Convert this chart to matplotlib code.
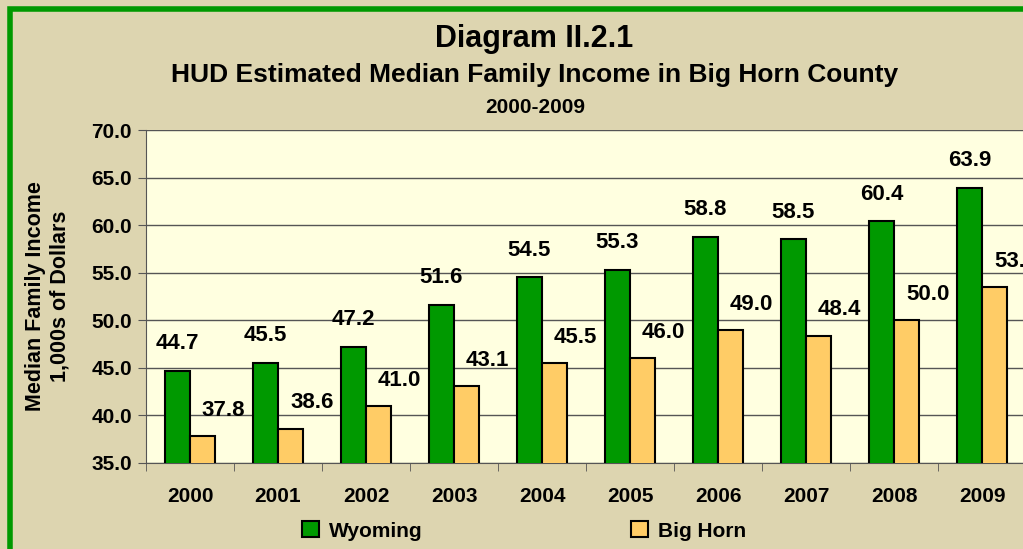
import matplotlib.pyplot as plt
import numpy as np

plt.rcParams['font.family'] = ['Liberation Sans', 'DejaVu Sans']
plt.rcParams['font.weight'] = 'bold'

years = ['2000', '2001', '2002', '2003', '2004', '2005', '2006', '2007', '2008', '2009']
wyoming = [44.7, 45.5, 47.2, 51.6, 54.5, 55.3, 58.8, 58.5, 60.4, 63.9]
big_horn = [37.8, 38.6, 41.0, 43.1, 45.5, 46.0, 49.0, 48.4, 50.0, 53.5]

green = '#009900'
orange = '#ffcc66'
bg = '#ddd5b0'

fig = plt.figure(figsize=(10.23, 5.49), dpi=100, facecolor=bg)
# green frame round the chart (cropped at the right)
frame = plt.Rectangle((0.0098, -0.05), 1.2, 1.034, transform=fig.transFigure,
                      fill=False, edgecolor=green, linewidth=4, zorder=0)
fig.patches.append(frame)

ax = fig.add_axes([146 / 1023, 1 - 463 / 549, 880 / 1023, 333 / 549])
ax.set_facecolor('#ffffe0')

x = np.arange(len(years))
w = 0.285
b1 = ax.bar(x - w / 2, wyoming, w, bottom=0, color=green, edgecolor='black', linewidth=1.5, zorder=3)
b2 = ax.bar(x + w / 2, big_horn, w, bottom=0, color=orange, edgecolor='black', linewidth=1.5, zorder=3)

for i in range(len(years)):
    ax.annotate(f'{wyoming[i]:.1f}', (x[i] - w / 2, wyoming[i]), xytext=(0, 12),
                textcoords='offset points', ha='center', va='bottom', fontsize=16, fontweight='bold',
                annotation_clip=False)
    ax.annotate(f'{big_horn[i]:.1f}', (x[i] + w / 2 + 0.24, big_horn[i]), xytext=(0, 11),
                textcoords='offset points', ha='center', va='bottom', fontsize=16, fontweight='bold',
                annotation_clip=False)

ax.set_ylim(35, 70)
ax.set_xlim(-0.5, len(years) - 0.5)
ax.set_yticks(np.arange(35, 70.1, 5))
ax.set_yticklabels([f'{v:.1f}' for v in np.arange(35, 70.1, 5)], fontsize=15, fontweight='bold')
ax.yaxis.grid(True, color='#555555', linewidth=1)
ax.set_axisbelow(True)
ax.set_xticks(x)
ax.set_xticklabels(years, fontsize=15, fontweight='bold')
ax.set_xticks(np.arange(-0.5, len(years)), minor=True)
ax.tick_params(axis='x', which='major', length=0, pad=17)
ax.tick_params(axis='x', which='minor', length=6, color='#555555')
ax.tick_params(axis='y', length=6, color='#555555', pad=4)
for s in ['top', 'right']:
    ax.spines[s].set_visible(False)
ax.spines['left'].set_color('#555555')
ax.spines['bottom'].set_color('#555555')

ax.set_ylabel('Median Family Income\n1,000s of Dollars', fontsize=15.5, fontweight='bold', labelpad=15,
              linespacing=1.2)

fig.text(534 / 1023, 1 - 39 / 549, 'Diagram II.2.1', ha='center', va='center', fontsize=22, fontweight='bold')
fig.text(535 / 1023, 1 - 75 / 549, 'HUD Estimated Median Family Income in Big Horn County',
         ha='center', va='center', fontsize=19, fontweight='bold')
fig.text(535 / 1023, 1 - 107 / 549, '2000-2009', ha='center', va='center', fontsize=15, fontweight='bold')

fig.legend([b1, b2], ['Wyoming', 'Big Horn'], loc='center', bbox_to_anchor=(524 / 1023, 1 - 531 / 549),
           ncol=2, frameon=False, handlelength=0.8, handleheight=0.8, columnspacing=10,
           handletextpad=0.5, prop={'weight': 'bold', 'size': 15})

fig.savefig('out.png', dpi=100, facecolor=bg)
